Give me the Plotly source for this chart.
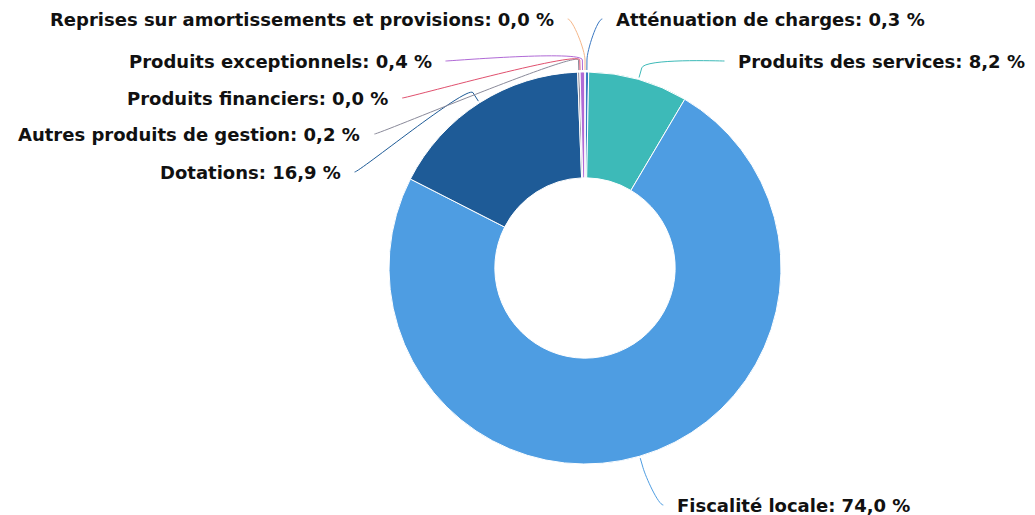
import math
import plotly.graph_objects as go

# ---- data ----
categories = [
    "Atténuation de charges",
    "Produits des services",
    "Fiscalité locale",
    "Dotations",
    "Autres produits de gestion",
    "Produits financiers",
    "Produits exceptionnels",
    "Reprises sur amortissements et provisions",
]
values = [0.3, 8.2, 74.0, 16.9, 0.2, 0.0, 0.4, 0.0]
colors = ["#3a78c2", "#3dbab8", "#4e9de2", "#1e5b97", "#8a8a9a", "#e0506e", "#b06ad6", "#f5b78a"]

# label vertical placement (layout, screen pixels from top) and side
label_y = [19, 61, 505, 172, 134, 98, 61, 19]
label_side = ["R", "R", "R", "L", "L", "L", "L", "L"]

W, H = 1035, 515
OFF = 8  # page body margin
cx, cy, r = 585, 268, 196
R_lab = 249.6
gap = 12

fig = go.Figure()
fig.add_trace(go.Pie(
    labels=categories, values=values, sort=False, direction="clockwise", rotation=0,
    hole=0.46, marker=dict(colors=colors, line=dict(color="#ffffff", width=1)),
    textinfo="none", hoverinfo="label+percent", showlegend=False,
    domain=dict(x=[(cx - OFF - r) / W, (cx - OFF + r) / W],
                y=[1 - (cy - OFF + r) / H, 1 - (cy - OFF - r) / H]),
))

total = sum(values)
cum = 0.0
shapes = []
annotations = []
for name, v, col, ly, side in zip(categories, values, colors, label_y, label_side):
    mid = (cum + v / 2) / total * 2 * math.pi
    cum += v
    sx, sy = math.sin(mid), -math.cos(mid)
    touch = (cx + (r + 2) * sx, cy + (r + 2) * sy)
    brk = (cx + (r + 12) * sx, cy + (r + 12) * sy)
    dy = ly - cy
    dxl = math.sqrt(max(R_lab ** 2 - dy ** 2, 0))
    sign = 1 if side == "R" else -1
    lx = cx + sign * dxl
    c1x = lx - sign * 5
    c2 = (2 * brk[0] - touch[0], 2 * brk[1] - touch[1])
    path = (f"M {lx:.2f},{ly:.2f} C {c1x:.2f},{ly:.2f} {c2[0]:.2f},{c2[1]:.2f} "
            f"{brk[0]:.2f},{brk[1]:.2f} L {touch[0]:.2f},{touch[1]:.2f}")
    shapes.append(dict(type="path", path=path, xref="x", yref="y",
                       line=dict(color=col, width=1), layer="above"))
    txt = f"{name}: {v:.1f}".replace(".", ",") + " %"
    annotations.append(dict(
        x=lx + sign * gap, y=ly, xref="x", yref="y", text=f"<b>{txt}</b>",
        showarrow=False, xanchor="left" if side == "R" else "right", yanchor="middle",
        font=dict(family="DejaVu Sans", size=18, color="#111111"),
    ))

fig.update_layout(
    width=W, height=H, margin=dict(l=0, r=0, t=0, b=0),
    paper_bgcolor="white", plot_bgcolor="rgba(0,0,0,0)",
    xaxis=dict(range=[OFF, W + OFF], visible=False, fixedrange=True, domain=[0, 1]),
    yaxis=dict(range=[H + OFF, OFF], visible=False, fixedrange=True, domain=[0, 1]),
    shapes=shapes, annotations=annotations, showlegend=False,
)

fig.write_html("out.html")
